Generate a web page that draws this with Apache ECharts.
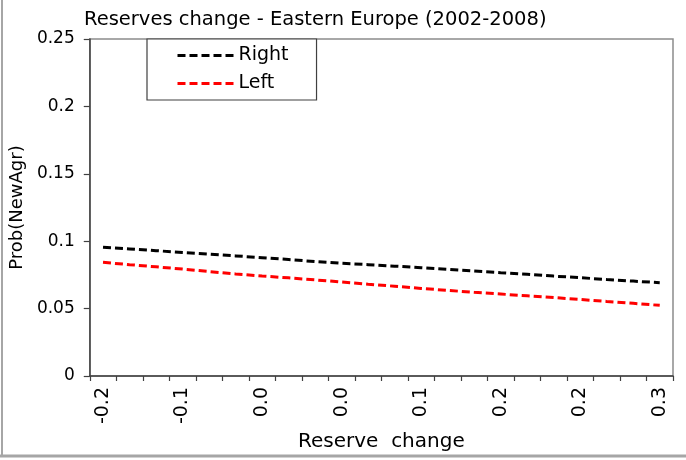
<!DOCTYPE html>
<html>
<head>
<meta charset="utf-8">
<script src="https://cdn.jsdelivr.net/npm/echarts@6/dist/echarts.min.js"></script>
<style>
html,body{margin:0;padding:0;background:#fff;}
#chart{width:686px;height:460px;}
</style>
</head>
<body>
<div id="chart"></div>
<script>
const titleText = 'Reserves change - Eastern Europe (2002-2008)';
const xName = 'Reserve  change';
const yName = 'Prob(NewAgr)';
const categories = ['-0.2','-0.2','-0.1','-0.1','-0.1','-0.1','0.0','0.0','0.0','0.0','0.1',
                    '0.1','0.1','0.1','0.2','0.2','0.2','0.2','0.2','0.3','0.3','0.3'];
const rightValues = [0.0956,0.0943,0.0930,0.0916,0.0904,0.0891,0.0878,0.0864,0.0849,0.0836,0.0826,
                     0.0815,0.0803,0.0791,0.0779,0.0766,0.0754,0.0741,0.0729,0.0716,0.0704,0.0692];
const leftValues  = [0.0843,0.0826,0.0810,0.0793,0.0775,0.0757,0.0742,0.0728,0.0713,0.0697,0.0681,
                     0.0666,0.0650,0.0635,0.0621,0.0608,0.0595,0.0582,0.0568,0.0553,0.0539,0.0524];
const yMin = 0, yMax = 0.25, yStep = 0.05;

const FONT = 'DejaVu Sans';
const chart = echarts.init(document.getElementById('chart'), null, {renderer: 'canvas'});
chart.setOption({
  backgroundColor: '#fff',
  animation: false,
  title: {
    text: titleText, left: 79, top: 5,
    textStyle: {fontFamily: FONT, fontSize: 19.5, fontWeight: 'normal', color: '#000'}
  },
  legend: {
    orient: 'vertical', left: 147, top: 39,
    padding: [7, 28, 7, 29], itemGap: 9,
    itemWidth: 56, itemHeight: 14,
    borderColor: '#404040', borderWidth: 1.2, backgroundColor: '#fff',
    itemStyle: {opacity: 0},
    lineStyle: {width: 3, type: [8, 4]},
    textStyle: {fontFamily: FONT, fontSize: 19, color: '#000', lineHeight: 19},
    data: ['Right', 'Left']
  },
  grid: {
    left: 86, right: 13, top: 39, bottom: 84,
    show: true, borderColor: '#8c8c8c', borderWidth: 1.5, backgroundColor: '#fff'
  },
  xAxis: {
    type: 'category', data: categories, boundaryGap: true,
    name: xName, nameLocation: 'middle', nameGap: 50,
    nameTextStyle: {fontFamily: FONT, fontSize: 20, color: '#000'},
    axisLine: {lineStyle: {color: '#404040', width: 1.5}},
    axisTick: {show: true, interval: 0, alignWithLabel: false, length: 5, lineStyle: {color: '#404040', width: 1.2}},
    axisLabel: {interval: 2, rotate: 90, margin: 11, fontFamily: FONT, fontSize: 19, color: '#000'},
    splitLine: {show: false}
  },
  yAxis: {
    type: 'value', min: yMin, max: yMax, interval: yStep,
    name: yName, nameLocation: 'middle', nameGap: 58,
    nameTextStyle: {fontFamily: FONT, fontSize: 18, color: '#000'},
    axisLine: {show: true, lineStyle: {color: '#404040', width: 1.5}},
    axisTick: {show: true, length: 6, lineStyle: {color: '#404040', width: 1.2}},
    axisLabel: {margin: 15, fontFamily: FONT, fontSize: 17, color: '#000'},
    splitLine: {show: false}
  },
  graphic: [
    {type: 'line', shape: {x1: 2, y1: 0, x2: 2, y2: 456}, style: {stroke: '#a6a6a6', lineWidth: 2}},
    {type: 'line', shape: {x1: 0, y1: 456, x2: 686, y2: 456}, style: {stroke: '#a6a6a6', lineWidth: 3}}
  ],
  series: [
    {name: 'Right', type: 'line', data: rightValues, symbol: 'none', smooth: false,
     lineStyle: {color: '#000', width: 3, type: [8, 4]}, itemStyle: {color: '#000'}},
    {name: 'Left', type: 'line', data: leftValues, symbol: 'none', smooth: false,
     lineStyle: {color: '#ff0000', width: 3, type: [8, 4]}, itemStyle: {color: '#ff0000'}}
  ]
});
</script>
</body>
</html>
